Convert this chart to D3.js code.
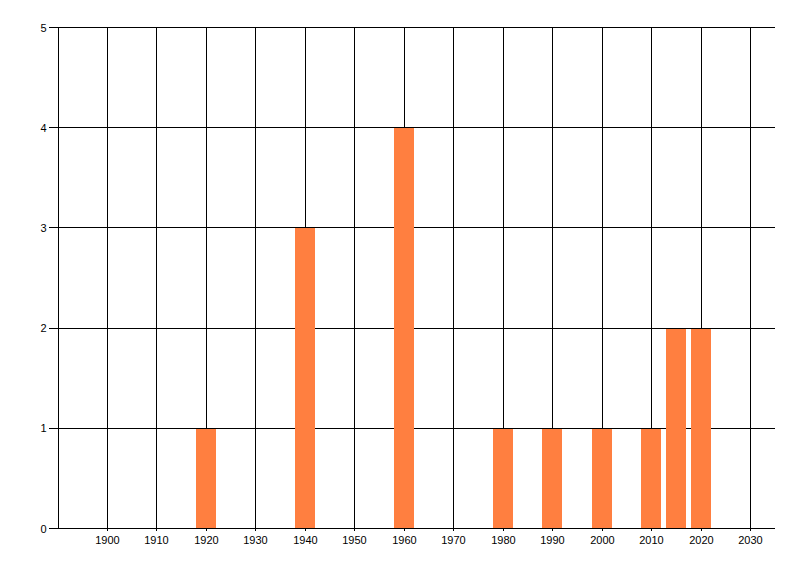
<!DOCTYPE html>
<html>
<head>
<meta charset="utf-8">
<script src="https://cdn.jsdelivr.net/npm/d3@7"></script>
<style>
  html, body { margin: 0; padding: 0; background: #fff; }
  text { font-family: "Liberation Sans", Arial, sans-serif; font-size: 11px; fill: #000; }
</style>
</head>
<body>
<svg id="chart" width="800" height="576"></svg>
<script>
const years = [1920, 1940, 1960, 1980, 1990, 2000, 2010, 2015, 2020];
const counts = [1, 3, 4, 1, 1, 1, 1, 2, 2];
const xTicks = [1900, 1910, 1920, 1930, 1940, 1950, 1960, 1970, 1980, 1990, 2000, 2010, 2020, 2030];
const yTicks = [0, 1, 2, 3, 4, 5];

const svg = d3.select("#chart");
const plotLeft = 57.54, plotRight = 774.7, plotTop = 27, plotBottom = 528;

const x = d3.scaleLinear().domain([1890, 2035]).range([plotLeft, plotRight]);
const y = d3.scaleLinear().domain([0, 5]).range([plotBottom, plotTop]);

const g = svg.append("g").attr("shape-rendering", "crispEdges");

// vertical grid lines
g.selectAll("line.vg").data(xTicks).join("line")
  .attr("class", "vg")
  .attr("x1", d => Math.round(x(d)) + 0.5).attr("x2", d => Math.round(x(d)) + 0.5)
  .attr("y1", plotTop).attr("y2", plotBottom + 3)
  .attr("stroke", "#000").attr("stroke-width", 1);

// horizontal grid lines
g.selectAll("line.hg").data(yTicks).join("line")
  .attr("class", "hg")
  .attr("x1", 49).attr("x2", plotRight + 0.6)
  .attr("y1", d => Math.round(y(d)) + 0.5).attr("y2", d => Math.round(y(d)) + 0.5)
  .attr("stroke", "#000").attr("stroke-width", 1);

// y axis line
g.append("line")
  .attr("x1", Math.round(plotLeft) + 0.5).attr("x2", Math.round(plotLeft) + 0.5)
  .attr("y1", plotTop).attr("y2", plotBottom + 1)
  .attr("stroke", "#000");

// bars
const barW = x(1894) - x(1890);
svg.append("g").attr("shape-rendering", "crispEdges")
  .selectAll("rect").data(years).join("rect")
  .attr("x", d => Math.round(x(d) - barW / 2))
  .attr("width", Math.round(barW))
  .attr("y", (d, i) => Math.round(y(counts[i])) + 1)
  .attr("height", (d, i) => Math.round(y(0)) - Math.round(y(counts[i])) - 1)
  .attr("fill", "#FF7F40");

// labels
svg.append("g").selectAll("text").data(xTicks).join("text")
  .attr("x", d => Math.round(x(d)) + 0.5)
  .attr("y", 544)
  .attr("text-anchor", "middle")
  .text(d => d);

svg.append("g").selectAll("text").data(yTicks).join("text")
  .attr("x", 46.5)
  .attr("y", d => y(d) + 4.5)
  .attr("text-anchor", "end")
  .text(d => d);
</script>
</body>
</html>
